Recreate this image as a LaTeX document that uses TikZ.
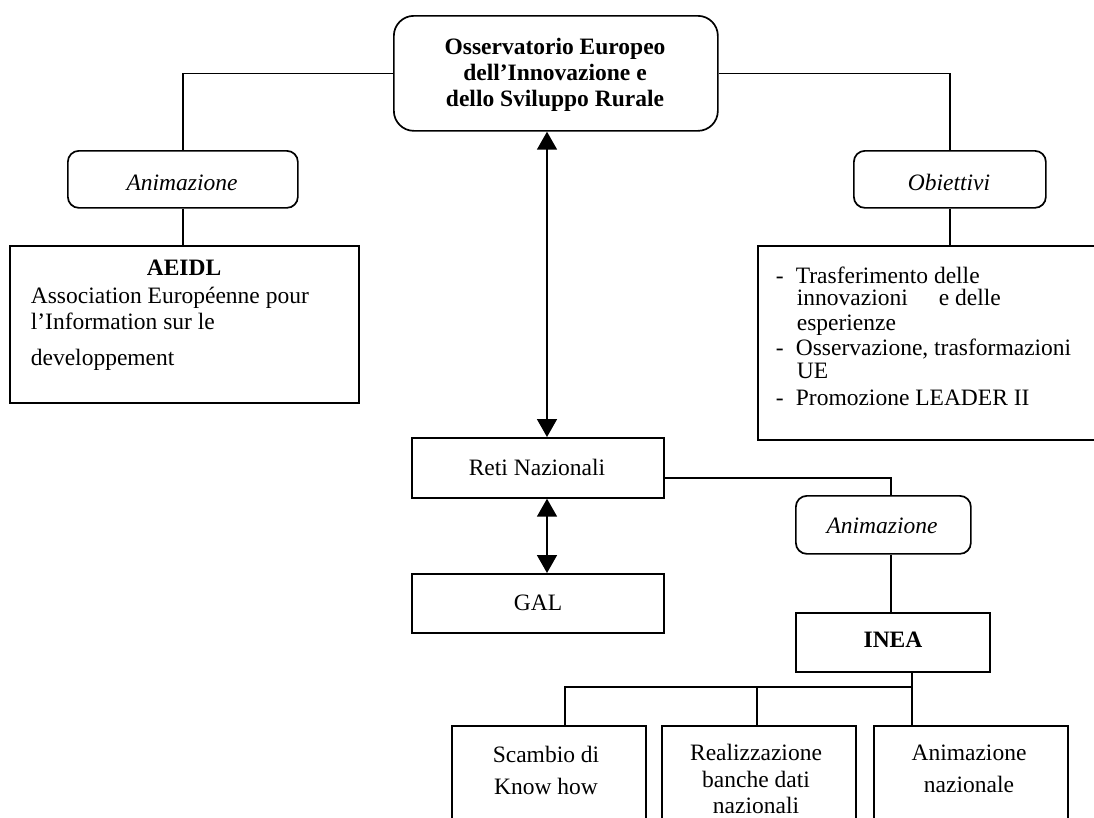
\documentclass[tikz,border=0pt]{standalone}
\usepackage{fontspec}
\setmainfont{Liberation Serif}
\usetikzlibrary{arrows.meta}
\begin{document}
\begin{tikzpicture}[x=1pt,y=-1pt, line width=1.7pt,
  box/.style={draw, rectangle, inner sep=0pt, anchor=north west},
  rbox/.style={box, rounded corners=11pt},
  txt/.style={inner sep=0pt, font=\fontsize{23.5}{26}\selectfont},
  btxt/.style={inner sep=0pt, font=\fontsize{23.5}{26}\selectfont\bfseries},
  itxt/.style={inner sep=0pt, font=\fontsize{23.5}{26}\selectfont\itshape},
  conn/.style={line width=1.7pt},
  dbl/.style={conn, {Triangle[width=20pt,length=18pt]}-{Triangle[width=20pt,length=18pt]}}]
\useasboundingbox (0,0) rectangle (1094,817);
\clip (0,0) rectangle (1094,817);

% boxes
\node[box, rounded corners=20pt, minimum width=324, minimum height=115] (top) at (393,15) {};
\node[rbox, minimum width=230, minimum height=57] (anim1) at (67,150) {};
\node[box, minimum width=349, minimum height=157] (aeidl) at (9,245) {};
\node[rbox, minimum width=192, minimum height=57] (obj) at (853,150) {};
\node[box, minimum width=384, minimum height=194] (objlist) at (757,245) {};
\node[box, minimum width=252, minimum height=60] (reti) at (411,437) {};
\node[box, minimum width=252, minimum height=59] (gal) at (411,573) {};
\node[rbox, minimum width=175, minimum height=58] (anim2) at (795,495) {};
\node[box, minimum width=194, minimum height=59] (inea) at (795,612) {};
\node[box, minimum width=194, minimum height=150] (b1) at (451,725) {};
\node[box, minimum width=194, minimum height=150] (b2) at (661,725) {};
\node[box, minimum width=194, minimum height=150] (b3) at (873,725) {};

% texts
\node[btxt, align=center] (toptxt) at (555,75) {Osservatorio Europeo\\dell’Innovazione e\\dello Sviluppo Rurale};
\node[itxt, anchor=base] (anim1txt) at (182,190) {Animazione};
\node[itxt, anchor=base] (objtxt) at (949,190) {Obiettivi};
\node[btxt, anchor=base] (aeidltxt) at (184,275) {AEIDL};
\node[txt, anchor=base west] (a1) at (30,303) {Association Européenne pour};
\node[txt, anchor=base west] (a2) at (30,329) {l’Information sur le};
\node[txt, anchor=base west] (a3) at (30,365) {developpement};

\node[txt, anchor=base west] (d1) at (775,283) {-};
\node[txt, anchor=base west] (o1) at (795,283) {Trasferimento delle};
\node[txt, anchor=base west] (o2) at (796,305) {innovazioni\hspace*{31pt}e delle};
\node[txt, anchor=base west] (o3) at (796,330) {esperienze};
\node[txt, anchor=base west] (d2) at (775,355) {-};
\node[txt, anchor=base west] (o4) at (795,355) {Osservazione, trasformazioni};
\node[txt, anchor=base west] (o5) at (796,378) {UE};
\node[txt, anchor=base west] (d3) at (775,405) {-};
\node[txt, anchor=base west] (o6) at (795,405) {Promozione LEADER II};

\node[txt, anchor=base] (retitxt) at (537,475) {Reti Nazionali};
\node[txt, anchor=base] (galtxt) at (538,610) {GAL};
\node[itxt, anchor=base] (anim2txt) at (882,533) {Animazione};
\node[btxt, anchor=base] (ineatxt) at (893,647) {INEA};

\node[txt, anchor=base] (b1l1) at (546,762) {Scambio di};
\node[txt, anchor=base] (b1l2) at (546,794) {Know how};
\node[txt, anchor=base] (b2l1) at (756,760) {Realizzazione};
\node[txt, anchor=base] (b2l2) at (756,787) {banche dati};
\node[txt, anchor=base] (b2l3) at (756,813) {nazionali};
\node[txt, anchor=base] (b3l1) at (969,760) {Animazione};
\node[txt, anchor=base] (b3l2) at (969,792) {nazionale};

% helper coordinates
\coordinate (ax) at (547,0);
\coordinate (vx) at (891,0);
\coordinate (v1) at (565,687);
\coordinate (v2) at (757,687);
\coordinate (v3) at (912,687);

% connectors
\draw[conn] (top.west) -| (anim1.north);
\draw[conn] (anim1.south) -- (anim1.south |- aeidl.north);
\draw[conn] (top.east) -| (obj.north);
\draw[conn] (obj.south) -- (obj.south |- objlist.north);
\draw[dbl] (top.south -| ax) -- (reti.north -| ax);
\draw[dbl] (reti.south -| ax) -- (gal.north -| ax);
\draw[conn] ([yshift=-10pt]reti.east) -| (anim2.north -| vx);
\draw[conn] (anim2.south -| vx) -- (inea.north -| vx);
\draw[conn] (inea.south -| v3) -- (v3) -- (v1) -- (v1 |- b1.north);
\draw[conn] (v2) -- (v2 |- b2.north);
\draw[conn] (v3) -- (v3 |- b3.north);
\end{tikzpicture}
\end{document}
